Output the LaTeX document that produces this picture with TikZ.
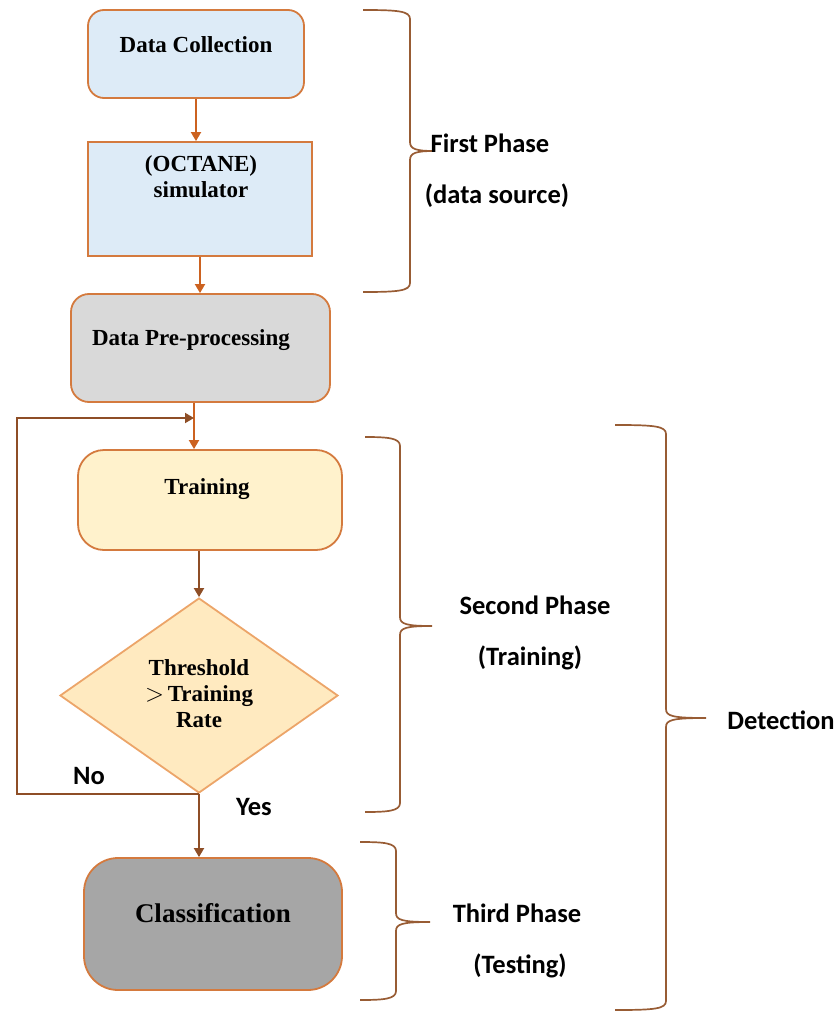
\documentclass[tikz,border=0pt]{standalone}
\usepackage{fontspec}
\setmainfont{Liberation Serif}
\newfontfamily\labelfont{Carlito}
\usetikzlibrary{shapes.geometric,arrows.meta}

\definecolor{boxedge}{RGB}{212,122,62}
\definecolor{diaedge}{RGB}{236,165,105}
\definecolor{arrowor}{RGB}{204,98,32}
\definecolor{arrowbr}{RGB}{142,78,38}
\definecolor{braceclr}{RGB}{152,92,52}
\definecolor{fillblue}{RGB}{221,235,247}
\definecolor{fillgrey}{RGB}{217,217,217}
\definecolor{fillcream}{RGB}{255,242,204}
\definecolor{filldia}{RGB}{255,234,192}
\definecolor{filldark}{RGB}{166,166,166}

% one curly brace: left end x, vertical x, tip x, top y, tip y, bottom y
\newcommand{\phasebrace}[6]{%
  \draw[bracestyle] (#1,#4) .. controls (#2-12,#4) and (#2,#4+1) .. (#2,#4+9)
    -- (#2,#5-9) .. controls (#2,#5-2) and (#2+6,#5) .. (#3,#5)
    .. controls (#2+6,#5) and (#2,#5+2) .. (#2,#5+9)
    -- (#2,#6-9) .. controls (#2,#6-1) and (#2-12,#6) .. (#1,#6);}

\tikzset{
  boxtext/.style={font=\fontsize{23}{26}\selectfont\bfseries, align=center, inner sep=0pt},
  sidetext/.style={font=\labelfont\fontsize{26.5}{30}\selectfont\bfseries, inner sep=0pt},
  flowbox/.style={draw=boxedge, line width=1.8pt, inner sep=0pt},
  toparrow/.style={draw=arrowor, line width=1.8pt, -{Triangle[width=10pt,length=9pt]}},
  lowarrow/.style={draw=arrowbr, line width=1.8pt, -{Triangle[width=10pt,length=9pt]}},
  bracestyle/.style={draw=braceclr, line width=1.7pt},
}

\begin{document}
\begin{tikzpicture}[x=1pt, y=-1pt]
\useasboundingbox (0,0) rectangle (837,1014);

% flow boxes
\node[flowbox, fill=fillblue, rounded corners=16pt, minimum width=216pt, minimum height=88pt] (dc) at (196,54) {};
\node[boxtext] (dct) at (196,45) {Data Collection};

\node[flowbox, fill=fillblue, minimum width=224pt, minimum height=114pt] (oct) at (200,199) {};
\node[boxtext, anchor=north] (octt) at (201,155) {(OCTANE)\\simulator};

\node[flowbox, fill=fillgrey, rounded corners=18pt, minimum width=259pt, minimum height=108pt] (pre) at (200.5,348) {};
\node[boxtext] (pret) at (191,340) {Data Pre-processing};

\node[flowbox, fill=fillcream, rounded corners=26pt, minimum width=264pt, minimum height=100pt] (train) at (210,500) {};
\node[boxtext] (traint) at (207,489) {Training};

\node[draw=diaedge, line width=1.8pt, fill=filldia, diamond, inner sep=0pt, minimum width=278pt, minimum height=195pt] (dia) at (199,695.5) {};
\node[boxtext] (diat) at (199,694) {Threshold\\${>}$\,Training\\Rate};

\node[flowbox, fill=filldark, rounded corners=34pt, minimum width=258pt, minimum height=132pt] (cls) at (213,924) {};
\node[boxtext, font=\fontsize{27}{30}\selectfont\bfseries] (clst) at (213,913) {Classification};

% connectors
\coordinate (joint) at (194,418);
\coordinate (loopcorner) at (17,418);
\draw[toparrow] (dc.south) -- (dc.south |- oct.north);
\draw[toparrow] (oct.south) -- (oct.south |- pre.north);
\draw[toparrow] (joint |- pre.south) -- (joint |- train.north);
\draw[lowarrow] (dia.north |- train.south) -- (dia.north);
\draw[lowarrow] (dia.south) -- (dia.south |- cls.north);
\draw[lowarrow] (dia.south) -| (loopcorner) -- (joint);

\node[sidetext] (no) at (89,776) {No};
\node[sidetext] (yes) at (254,807) {Yes};

% phase braces
\phasebrace{363}{410}{434}{10}{151}{292}
\phasebrace{365}{400}{432}{437}{626}{812}
\phasebrace{360}{396}{430}{842}{922}{1000}
\phasebrace{615}{666}{706}{425}{718}{1010}

\node[sidetext] (p1a) at (490,143) {First Phase};
\node[sidetext] (p1b) at (497,196) {(data source)};
\node[sidetext] (p2a) at (535,605) {Second Phase};
\node[sidetext] (p2b) at (530,658) {(Training)};
\node[sidetext] (p3a) at (517,913) {Third Phase};
\node[sidetext] (p3b) at (520,966) {(Testing)};
\node[sidetext] (det) at (781,720) {Detection};
\end{tikzpicture}
\end{document}
